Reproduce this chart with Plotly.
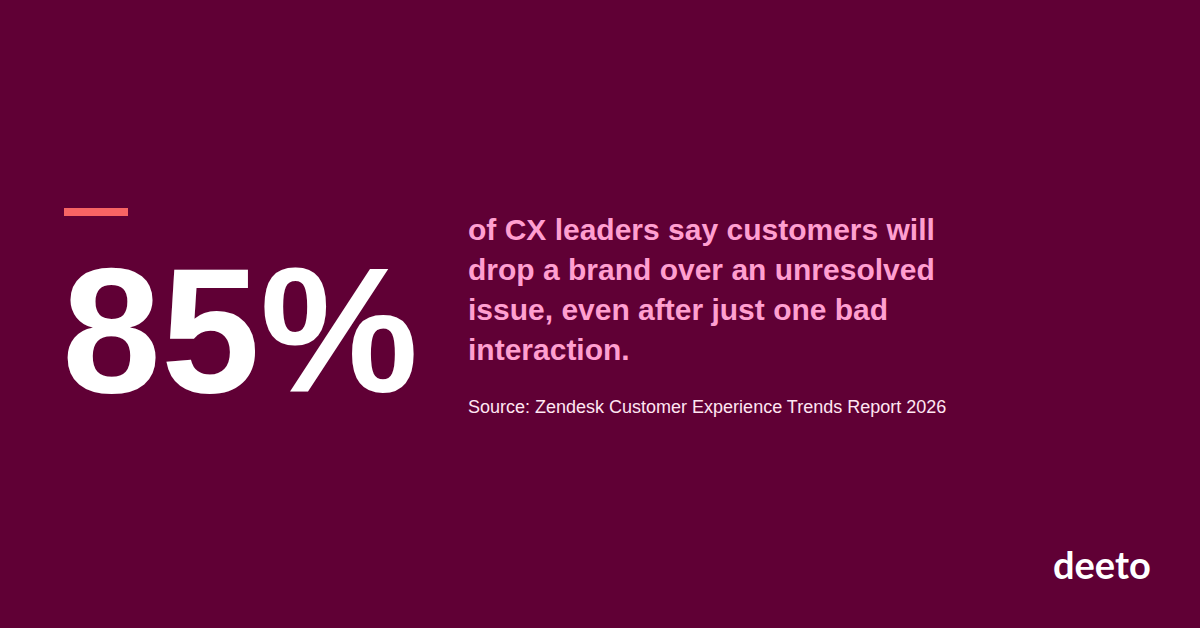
import plotly.graph_objects as go

# card content
stat_value = "85%"
statement_lines = [
    "of CX leaders say customers will",
    "drop a brand over an unresolved",
    "issue, even after just one bad",
    "interaction.",
]
source_text = "Source: Zendesk Customer Experience Trends Report 2026"
brand_name = "deeto"

W, H = 1200, 628
BG = "#600035"
ACCENT = "#F76464"
PINK = "#FF9FD0"
FONT = "Liberation Sans, Arial, sans-serif"


def y_mid(baseline, size):
    # convert a baseline (px from top) to the centre of the text box
    return H - (baseline - 0.3465 * size)


fig = go.Figure()

# accent dash over the number
fig.add_shape(type="rect", x0=64, x1=128, y0=H - 216, y1=H - 208,
              fillcolor=ACCENT, line_width=0, layer="above")

annotations = []
annotations.append(dict(x=60, y=y_mid(392, 178), text="<b>%s</b>" % stat_value,
                        xanchor="left", yanchor="middle", showarrow=False,
                        font=dict(family=FONT, size=178, color="white")))

for i, line in enumerate(statement_lines):
    annotations.append(dict(x=466, y=y_mid(240 + 40 * i, 30), text="<b>%s</b>" % line,
                            xanchor="left", yanchor="middle", showarrow=False,
                            font=dict(family=FONT, size=30, color=PINK)))

annotations.append(dict(x=466, y=y_mid(413, 18), text=source_text,
                        xanchor="left", yanchor="middle", showarrow=False,
                        font=dict(family=FONT, size=18, color="#FFE6F2")))

annotations.append(dict(x=1153, y=y_mid(577, 38), text="<b>%s</b>" % brand_name,
                        xanchor="right", yanchor="middle", showarrow=False,
                        font=dict(family="Lato, Noto Sans, sans-serif", size=38, color="white")))

fig.update_layout(
    width=W, height=H,
    margin=dict(l=0, r=0, t=0, b=0),
    paper_bgcolor=BG, plot_bgcolor=BG,
    xaxis=dict(range=[0, W], visible=False, fixedrange=True),
    yaxis=dict(range=[0, H], visible=False, fixedrange=True),
    annotations=annotations,
    showlegend=False,
)

fig.write_html("out.html", config={"displayModeBar": False},
               post_script="document.body.style.margin='0';document.body.style.background='%s';" % BG)
